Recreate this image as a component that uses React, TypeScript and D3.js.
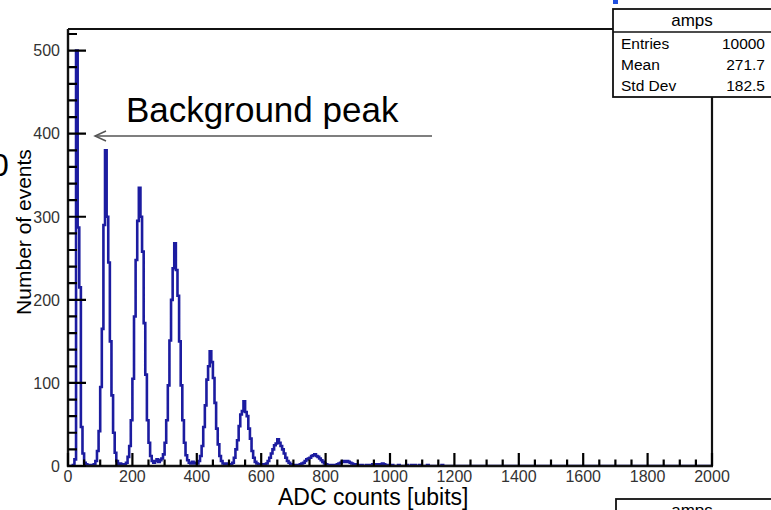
import React from 'react';
import * as d3 from 'd3';

// ---------- data ----------
const X_MIN = 0;
const X_MAX = 2000;
const BIN_WIDTH = 5;
const Y_MAX = 526;

// bin contents, 400 bins of width 5 from 0 to 2000 (one line = 100 ubits)
const counts: number[] = [
  0, 0, 0, 1, 8, 500, 287, 215, 47, 15, 4, 2, 1, 0, 1, 1, 2, 6, 18, 42,
  95, 165, 290, 380, 300, 245, 150, 85, 40, 16, 6, 2, 3, 1, 2, 2, 4, 11, 24, 55,
  105, 180, 248, 295, 335, 300, 258, 172, 110, 55, 28, 12, 6, 4, 6, 8, 5, 7, 9, 14,
  28, 55, 97, 151, 200, 238, 268, 236, 205, 150, 97, 55, 28, 13, 7, 4, 3, 5, 3, 4,
  3, 6, 12, 24, 47, 73, 104, 120, 138, 125, 106, 76, 45, 26, 12, 6, 3, 2, 3, 2,
  1, 2, 4, 10, 20, 31, 48, 62, 66, 78, 65, 60, 45, 33, 18, 10, 5, 3, 2, 1,
  2, 1, 2, 3, 6, 10, 15, 20, 25, 27, 32, 28, 24, 20, 15, 10, 6, 4, 2, 1,
  1, 0, 1, 1, 2, 3, 4, 6, 8, 9, 10, 12, 13, 14, 12, 11, 9, 7, 5, 3,
  2, 1, 1, 0, 1, 1, 1, 2, 3, 4, 5, 6, 5, 6, 5, 4, 3, 2, 2, 1,
  1, 0, 1, 0, 0, 1, 0, 1, 1, 2, 1, 2, 2, 1, 2, 3, 2, 1, 1, 1,
  0, 1, 0, 0, 0, 1, 0, 0, 0, 0, 1, 0, 0, 1, 0, 1, 0, 0, 1, 0,
  0, 0, 0, 1, 0, 0, 0, 0, 0, 0, 0, 0, 1, 0, 0, 0, 0, 0, 0, 0,
  0, 0, 0, 0, 0, 0, 0, 0, 0, 0, 0, 0, 0, 0, 0, 0, 0, 0, 0, 0,
  0, 0, 0, 0, 0, 0, 0, 0, 0, 0, 0, 0, 0, 0, 0, 0, 0, 0, 0, 0,
  0, 0, 0, 0, 0, 0, 0, 0, 0, 0, 0, 0, 0, 0, 0, 0, 0, 0, 0, 0,
  0, 0, 0, 0, 0, 0, 0, 0, 0, 0, 0, 0, 0, 0, 0, 0, 0, 0, 0, 0,
  0, 0, 0, 0, 0, 0, 0, 0, 0, 0, 0, 0, 0, 0, 0, 0, 0, 0, 0, 0,
  0, 0, 0, 0, 0, 0, 0, 0, 0, 0, 0, 0, 0, 0, 0, 0, 0, 0, 0, 0,
  0, 0, 0, 0, 0, 0, 0, 0, 0, 0, 0, 0, 0, 0, 0, 0, 0, 0, 0, 0,
  0, 0, 0, 0, 0, 0, 0, 0, 0, 0, 0, 0, 0, 0, 0, 0, 0, 0, 0, 0,
];

const xTickLabels = ['0', '200', '400', '600', '800', '1000', '1200', '1400', '1600', '1800', '2000'];
const yTickLabels = ['0', '100', '200', '300', '400', '500'];

const statsTitle = 'amps';
const statsNames = ['Entries', 'Mean', 'Std Dev'];
const statsValues = ['10000', '271.7', '182.5'];

const annotationText = 'Background peak';
const xTitle = 'ADC counts [ubits]';
const yTitle = 'Number of events';

// ---------- layout ----------
const W = 771;
const H = 510;
const L = 68;
const R = 712;
const T = 29;
const B = 466;
const FONT = '"Liberation Sans", Arial, Helvetica, sans-serif';
const HIST_COLOR = '#1c1ca0';
const AXIS_COLOR = '#111';

export default function App() {
  const x = d3.scaleLinear().domain([X_MIN, X_MAX]).range([L, R]);
  const y = d3.scaleLinear().domain([0, Y_MAX]).range([B, T]);

  const pts: [number, number][] = [[X_MIN, 0]];
  counts.forEach((c, i) => pts.push([X_MIN + i * BIN_WIDTH, c]));
  pts.push([X_MAX, counts[counts.length - 1]]);
  pts.push([X_MAX, 0]);
  const line = d3
    .line<[number, number]>()
    .x((d) => x(d[0]))
    .y((d) => y(d[1]))
    .curve(d3.curveStepAfter);
  const histPath = line(pts) || '';

  const xMinor = d3.range(0, X_MAX + 1, 50);
  const yMinor = d3.range(0, Y_MAX, 20);

  const tp = d3.path();
  xMinor.forEach((v) => {
    tp.moveTo(x(v), B);
    tp.lineTo(x(v), B - (v % 200 === 0 ? 13 : 6.5));
  });
  yMinor.forEach((v) => {
    tp.moveTo(L, y(v));
    tp.lineTo(L + (v % 100 === 0 ? 18 : 9), y(v));
  });
  const tickPath = tp.toString();

  return (
    <svg
      width={W}
      height={H}
      style={{ position: 'absolute', left: 0, top: 0, background: '#fff' }}
      fontFamily={FONT}
    >
      <rect x={0} y={0} width={W} height={H} fill="#fff" />

      {/* cut-off title fragment and left glyph */}
      <rect x={613} y={0} width={5} height={4} fill="#2050e0" />
      <text x={-9} y={176} fontSize={32} fill="#000">0</text>

      <defs>
        <clipPath id="plotclip">
          <rect x={L} y={T - 2} width={R - L} height={B - T + 2} />
        </clipPath>
      </defs>

      {/* frame */}
      <line x1={L} y1={T} x2={R} y2={T} stroke={AXIS_COLOR} strokeWidth={2.2} />
      <line x1={R} y1={T} x2={R} y2={B} stroke={AXIS_COLOR} strokeWidth={2.2} />

      {/* histogram */}
      <path
        d={histPath}
        fill="none"
        stroke={HIST_COLOR}
        strokeWidth={2.6}
        clipPath="url(#plotclip)"
      />

      {/* axes */}
      <line x1={L} y1={T} x2={L} y2={B + 1} stroke={AXIS_COLOR} strokeWidth={2.4} />
      <line x1={L - 1} y1={B} x2={R + 1} y2={B} stroke={AXIS_COLOR} strokeWidth={2.4} />

      {/* ticks */}
      <path d={tickPath} fill="none" stroke="#000" strokeWidth={2.2} />

      {xTickLabels.map((t) => (
        <text
          key={'xl' + t}
          x={x(+t)}
          y={482}
          fontSize={16}
          fill="#333"
          textAnchor="middle"
        >
          {t}
        </text>
      ))}
      {yTickLabels.map((t) => (
        <text
          key={'yl' + t}
          x={60}
          y={y(+t)}
          dy="0.36em"
          fontSize={16}
          fill="#333"
          textAnchor="end"
        >
          {t}
        </text>
      ))}

      {/* axis titles */}
      <text x={278} y={505} fontSize={23} fill="#000">
        {xTitle}
      </text>
      <text
        transform={`translate(31, 232) rotate(-90)`}
        fontSize={21}
        fill="#000"
        textAnchor="middle"
      >
        {yTitle}
      </text>

      {/* annotation */}
      <text x={126} y={122} fontSize={35} fill="#000">
        {annotationText}
      </text>
      <line x1={432} y1={136} x2={95} y2={136} stroke="#555" strokeWidth={1.5} />
      <path d="M106,131 L95,136 L106,141" fill="none" stroke="#555" strokeWidth={1.5} />

      {/* stats box */}
      <rect x={613} y={9} width={170} height={88} fill="#fff" stroke={AXIS_COLOR} strokeWidth={1.8} />
      <line x1={613} y1={32} x2={W} y2={32} stroke={AXIS_COLOR} strokeWidth={1.6} />
      <text x={692} y={26} fontSize={17} textAnchor="middle" fill="#000">
        {statsTitle}
      </text>
      {statsNames.map((n, i) => (
        <g key={n}>
          <text x={621} y={49 + i * 21} fontSize={15.5} fill="#000">
            {n}
          </text>
          <text x={765} y={49 + i * 21} fontSize={15.5} fill="#000" textAnchor="end">
            {statsValues[i]}
          </text>
        </g>
      ))}

      {/* second, cut-off stats box */}
      <rect x={616} y={499} width={170} height={40} fill="#fff" stroke={AXIS_COLOR} strokeWidth={1.8} />
      <text x={692} y={516} fontSize={17} textAnchor="middle" fill="#000">
        {statsTitle}
      </text>
    </svg>
  );
}
